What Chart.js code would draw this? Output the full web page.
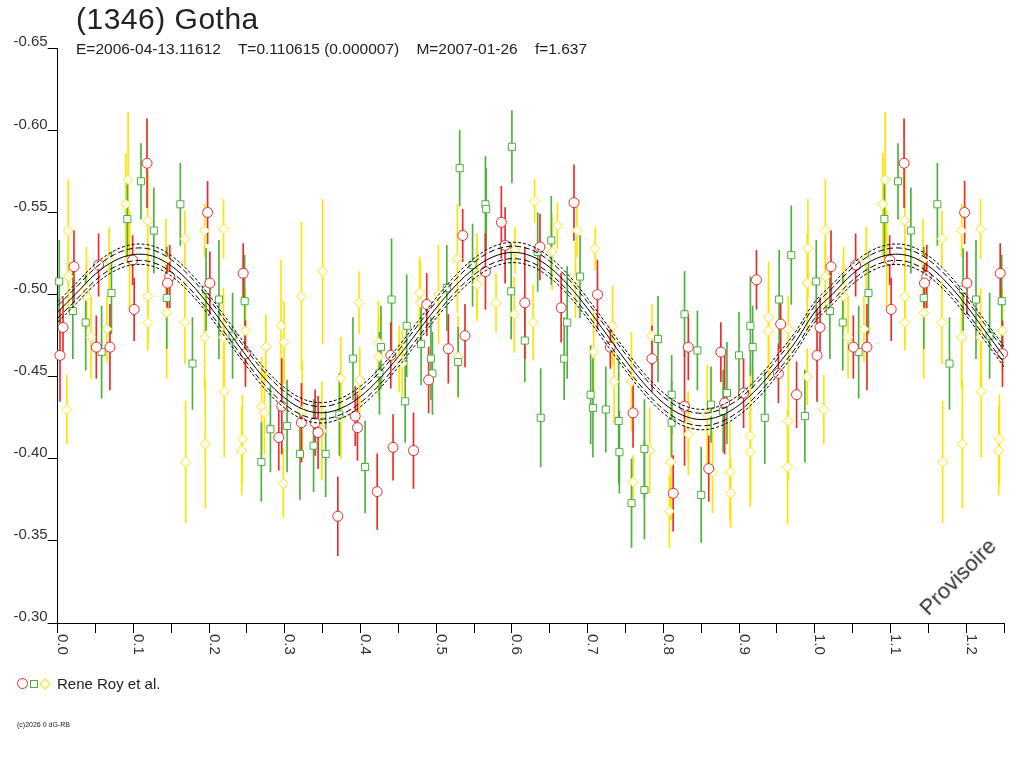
<!DOCTYPE html>
<html>
<head>
<meta charset="utf-8">
<title>(1346) Gotha</title>
<script src="https://cdn.jsdelivr.net/npm/chart.js@4.4.1/dist/chart.umd.min.js"></script>
<style>
body { margin: 0; background: #fff; }
#wrap { position: relative; width: 1024px; height: 768px; overflow: hidden; font-family: "Liberation Sans", Arial, sans-serif; color: #222; }
#c { position: absolute; left: 0; top: 0; }
.t { position: absolute; white-space: pre; line-height: 1; }
.mk { position: absolute; box-sizing: border-box; }
</style>
</head>
<body>
<div id="wrap">
  <canvas id="c" width="1024" height="768"></canvas>
  <div class="t" style="left:76px;top:4px;font-size:30px;letter-spacing:0.5px">(1346) Gotha</div>
  <div class="t" style="left:76px;top:41px;font-size:15.5px">E=2006-04-13.11612    T=0.110615 (0.000007)    M=2007-01-26    f=1.637</div>

  <span class="mk" style="left:17px;top:678px;width:11px;height:11px;border:1px solid #f02828;border-radius:50%"></span>
  <span class="mk" style="left:30px;top:680px;width:8px;height:8px;border:1px solid #4cb03c"></span>
  <span class="mk" style="left:41px;top:680px;width:8px;height:8px;border:1px solid #ffe400;transform:rotate(45deg)"></span>
  <div class="t" style="left:57px;top:676px;font-size:15px">Rene Roy et al.</div>
  <div class="t" style="left:17px;top:721px;font-size:7px">(c)2026 0 dG-RB</div>
  <div class="t" style="left:958px;top:577px;font-size:22px;color:#333;transform:translate(-50%,-50%) rotate(-45deg)">Provisoire</div>
</div>
<script>
// Rene Roy et al. - rouge (cercles)
const redPhase = [0.003, 0.007, 0.0215, 0.051, 0.054, 0.069, 0.099, 0.101, 0.118, 0.148, 0.145, 0.198, 0.201, 0.245, 0.248,
  0.296, 0.292, 0.322, 0.340, 0.344, 0.370, 0.393, 0.396, 0.422, 0.440, 0.443, 0.470, 0.4875, 0.490, 0.516,
  0.535, 0.538, 0.565, 0.586, 0.591, 0.617, 0.637, 0.665, 0.682, 0.713, 0.730, 0.760, 0.785, 0.813,
  0.828, 0.833, 0.860, 0.876, 0.881, 0.906, 0.923, 0.955, 0.952, 0.976];
const redMag = [-0.463, -0.480, -0.517, -0.468, -0.518, -0.468, -0.521, -0.491, -0.580, -0.511, -0.507, -0.550, -0.507, -0.513, -0.464,
  -0.432, -0.413, -0.422, -0.422, -0.416, -0.365, -0.426, -0.419, -0.380, -0.463, -0.407, -0.405, -0.494, -0.448, -0.467,
  -0.536, -0.475, -0.514, -0.544, -0.530, -0.495, -0.529, -0.492, -0.556, -0.500, -0.468, -0.428, -0.461, -0.379,
  -0.432, -0.468, -0.394, -0.465, -0.434, -0.440, -0.509, -0.482, -0.452, -0.439];
const redErr = [0.028, 0.018, 0.022, 0.019, 0.019, 0.026, 0.015, 0.019, 0.027, 0.019, 0.017, 0.019, 0.019, 0.018, 0.020,
  0.029, 0.020, 0.024, 0.020, 0.022, 0.024, 0.018, 0.020, 0.023, 0.020, 0.020, 0.023, 0.019, 0.020, 0.021,
  0.016, 0.019, 0.023, 0.022, 0.023, 0.034, 0.020, 0.021, 0.023, 0.021, 0.013, 0.021, 0.020, 0.023,
  0.036, 0.020, 0.020, 0.018, 0.031, 0.021, 0.018, 0.017, 0.018, 0.020];

// vert (carres)
const greenPhase = [0.002, 0.020, 0.037, 0.058, 0.071, 0.092, 0.110, 0.127, 0.144, 0.162, 0.178, 0.196, 0.213, 0.231, 0.247,
  0.269, 0.281, 0.303, 0.320, 0.338, 0.354, 0.372, 0.390, 0.406, 0.427, 0.425, 0.441, 0.459, 0.461, 0.480,
  0.493, 0.495, 0.514, 0.531, 0.529, 0.548, 0.565, 0.566, 0.599, 0.600, 0.617, 0.634, 0.638, 0.652,
  0.673, 0.669, 0.690, 0.704, 0.707, 0.724, 0.741, 0.742, 0.758, 0.775, 0.775, 0.793, 0.811, 0.811,
  0.828, 0.845, 0.850, 0.863, 0.879, 0.884, 0.900, 0.915, 0.918, 0.934, 0.953, 0.969, 0.987];
const greenMag = [-0.508, -0.490, -0.483, -0.465, -0.501, -0.546, -0.569, -0.539, -0.498, -0.555, -0.458, -0.503, -0.497, -0.475, -0.496,
  -0.398, -0.418, -0.420, -0.403, -0.408, -0.403, -0.427, -0.461, -0.395, -0.468, -0.452, -0.497, -0.435, -0.481, -0.470,
  -0.461, -0.452, -0.504, -0.577, -0.459, -0.518, -0.555, -0.552, -0.502, -0.590, -0.472, -0.526, -0.425, -0.533,
  -0.483, -0.461, -0.511, -0.439, -0.431, -0.430, -0.423, -0.404, -0.373, -0.406, -0.381, -0.473, -0.439, -0.422,
  -0.488, -0.466, -0.378, -0.433, -0.429, -0.440, -0.463, -0.481, -0.468, -0.425, -0.497, -0.524, -0.426];
const greenErr = [0.025, 0.029, 0.029, 0.028, 0.025, 0.025, 0.023, 0.026, 0.031, 0.025, 0.028, 0.025, 0.036, 0.026, 0.028,
  0.024, 0.026, 0.028, 0.028, 0.028, 0.026, 0.025, 0.025, 0.028, 0.025, 0.025, 0.037, 0.025, 0.031, 0.025,
  0.025, 0.025, 0.026, 0.023, 0.021, 0.025, 0.029, 0.025, 0.029, 0.022, 0.025, 0.024, 0.030, 0.027,
  0.034, 0.025, 0.025, 0.030, 0.030, 0.026, 0.038, 0.025, 0.027, 0.030, 0.030, 0.026, 0.024, 0.025,
  0.026, 0.024, 0.029, 0.023, 0.025, 0.031, 0.026, 0.030, 0.025, 0.028, 0.030, 0.030, 0.028];

// jaune (losanges)
const yellowPhase = [0.014, 0.014, 0.012, 0.038, 0.038, 0.044, 0.065, 0.068, 0.090, 0.093, 0.095, 0.119, 0.119, 0.119, 0.143,
  0.145, 0.144, 0.168, 0.168, 0.169, 0.194, 0.194, 0.195, 0.219, 0.219, 0.220, 0.244, 0.243, 0.248,
  0.2695, 0.273, 0.275, 0.295, 0.299, 0.298, 0.322, 0.323, 0.349, 0.350, 0.374, 0.374, 0.398, 0.399,
  0.4236, 0.424, 0.451, 0.455, 0.478, 0.479, 0.503, 0.528, 0.529, 0.554, 0.554, 0.579, 0.604, 0.603,
  0.628, 0.630, 0.653, 0.660, 0.686, 0.684, 0.710, 0.708, 0.733, 0.735, 0.758, 0.760, 0.785, 0.782,
  0.810, 0.808, 0.833, 0.833, 0.858, 0.865, 0.888, 0.889, 0.915, 0.915, 0.939, 0.939, 0.965, 0.965,
  0.964, 0.990, 0.990, 0.991];
const yellowMag = [-0.539, -0.511, -0.430, -0.504, -0.499, -0.474, -0.479, -0.521, -0.555, -0.570, -0.521, -0.545, -0.499, -0.483, -0.521,
  -0.507, -0.489, -0.534, -0.483, -0.398, -0.539, -0.474, -0.409, -0.540, -0.474, -0.441, -0.412, -0.405, -0.478,
  -0.432, -0.428, -0.468, -0.481, -0.471, -0.385, -0.499, -0.429, -0.417, -0.514, -0.449, -0.425, -0.495, -0.448,
  -0.471, -0.462, -0.461, -0.458, -0.501, -0.495, -0.500, -0.522, -0.462, -0.512, -0.506, -0.495, -0.527, -0.488,
  -0.483, -0.557, -0.526, -0.542, -0.539, -0.509, -0.528, -0.465, -0.481, -0.447, -0.447, -0.386, -0.475, -0.405,
  -0.398, -0.368, -0.421, -0.415, -0.427, -0.392, -0.392, -0.379, -0.414, -0.404, -0.486, -0.478, -0.479, -0.423,
  -0.395, -0.450, -0.507, -0.528];
const yellowErr = [0.031, 0.020, 0.021, 0.025, 0.020, 0.025, 0.020, 0.020, 0.031, 0.041, 0.030, 0.031, 0.030, 0.017, 0.025,
  0.020, 0.040, 0.017, 0.025, 0.037, 0.016, 0.031, 0.039, 0.018, 0.030, 0.040, 0.027, 0.027, 0.025,
  0.030, 0.025, 0.020, 0.040, 0.025, 0.021, 0.045, 0.030, 0.030, 0.044, 0.025, 0.025, 0.019, 0.020,
  0.025, 0.025, 0.020, 0.020, 0.022, 0.025, 0.030, 0.033, 0.025, 0.025, 0.022, 0.018, 0.014, 0.023,
  0.023, 0.013, 0.023, 0.014, 0.016, 0.023, 0.013, 0.025, 0.024, 0.025, 0.030, 0.016, 0.019, 0.026,
  0.035, 0.022, 0.020, 0.025, 0.030, 0.025, 0.030, 0.021, 0.043, 0.030, 0.034, 0.030, 0.020, 0.036,
  0.035, 0.017, 0.030, 0.030];

// courbe ajustee
const fitPhase = [0.000, 0.025, 0.050, 0.075, 0.100, 0.125, 0.150, 0.175, 0.200, 0.225, 0.250, 0.275, 0.300, 0.325,
  0.350, 0.375, 0.400, 0.425, 0.450, 0.475, 0.500, 0.525, 0.550, 0.575, 0.600, 0.625, 0.650, 0.675,
  0.700, 0.725, 0.750, 0.775, 0.800, 0.825, 0.850, 0.875, 0.900, 0.925, 0.950, 0.975, 1.000];
const fitMag = [-0.4894, -0.5010, -0.5126, -0.5206, -0.5244, -0.5235, -0.5175, -0.5071, -0.4934, -0.4779, -0.4622, -0.4480, -0.4370, -0.4300,
  -0.4280, -0.4309, -0.4380, -0.4488, -0.4622, -0.4771, -0.4919, -0.5052, -0.5159, -0.5230, -0.5257, -0.5236, -0.5166, -0.5055,
  -0.4915, -0.4758, -0.4600, -0.4456, -0.4340, -0.4266, -0.4239, -0.4261, -0.4327, -0.4432, -0.4566, -0.4715, -0.4894];
const bandInner = 0.0038;
const bandOuter = 0.0062;

const xTicks = [0.0, 0.1, 0.2, 0.3, 0.4, 0.5, 0.6, 0.7, 0.8, 0.9, 1.0, 1.1, 1.2];

const RED = '#f02828', GREEN = '#4cb03c', YELLOW = '#ffe400';

// points + repetition au-dela de la phase 1.0
function points(ph, mag) {
    const out = [];
    ph.forEach((p, i) => {
        out.push({x: p, y: mag[i]});
        if (p <= 0.25) out.push({x: p + 1, y: mag[i]});
    });
    return out;
}
function bars(ph, mag, err) {
    const out = [];
    ph.forEach((p, i) => {
        out.push({x: p, y: [mag[i] - err[i], mag[i] + err[i]]});
        if (p <= 0.25) out.push({x: p + 1, y: [mag[i] - err[i], mag[i] + err[i]]});
    });
    return out;
}
function fitLine(shift) {
    const out = [];
    fitPhase.forEach((p, i) => out.push({x: p, y: fitMag[i] + shift}));
    fitPhase.forEach((p, i) => {
        if (p > 0 && p <= 0.25) out.push({x: p + 1, y: fitMag[i] + shift});
    });
    return out;
}

function lineSet(shift, dash) {
    return {
        type: 'line', data: fitLine(shift), showLine: true, borderColor: '#000', borderWidth: 1,
        borderDash: dash, pointRadius: 0, tension: 0.35, fill: false, order: 0
    };
}
function markSet(ph, mag, color, style, r) {
    return {
        type: 'scatter', data: points(ph, mag), pointStyle: style, pointRadius: r,
        borderColor: color, backgroundColor: '#fff', pointBorderWidth: 1, borderWidth: 1, order: 2, clip: false
    };
}
function barSet(ph, mag, err, color) {
    return {
        type: 'bar', data: bars(ph, mag, err), backgroundColor: color, borderWidth: 0,
        barThickness: 1, grouped: false, order: 5
    };
}

// etiquettes de l'axe x tournees
const xLabels = {
    id: 'xLabels',
    afterDraw(chart) {
        const s = chart.scales.x;
        const c = chart.ctx;
        c.save();
        c.fillStyle = '#333';
        c.font = '15px "Liberation Sans", Arial, sans-serif';
        c.textAlign = 'left';
        c.textBaseline = 'alphabetic';
        xTicks.forEach(v => {
            c.save();
            c.translate(s.getPixelForValue(v) + 0.5, s.top + 11);
            c.rotate(Math.PI / 2);
            c.fillText(v.toFixed(1), 0, 0);
            c.restore();
        });
        c.restore();
    }
};

new Chart(document.getElementById('c'), {
    type: 'scatter',
    data: {
        datasets: [
            lineSet(0, []),
            lineSet(bandInner, [6, 3]),
            lineSet(-bandInner, [6, 3]),
            lineSet(bandOuter, [3, 2]),
            lineSet(-bandOuter, [3, 2]),
            markSet(redPhase, redMag, RED, 'circle', 5),
            markSet(greenPhase, greenMag, GREEN, 'rect', 5),
            markSet(yellowPhase, yellowMag, YELLOW, 'rectRot', 5),
            barSet(redPhase, redMag, redErr, RED),
            barSet(greenPhase, greenMag, greenErr, GREEN),
            barSet(yellowPhase, yellowMag, yellowErr, YELLOW)
        ]
    },
    options: {
        responsive: false,
        animation: false,
        devicePixelRatio: 1,
        layout: { padding: { left: 0, top: 48.3, right: 20, bottom: 0 } },
        plugins: { legend: { display: false }, tooltip: { enabled: false } },
        scales: {
            x: {
                type: 'linear', min: 0, max: 1.25, offset: false,
                ticks: { stepSize: 0.05, display: false },
                grid: { drawOnChartArea: false, drawTicks: true, tickLength: 10, color: '#000', offset: false },
                border: { display: true, color: '#000' },
                afterFit: s => { s.height = 145; }
            },
            y: {
                type: 'linear', min: -0.65, max: -0.30, reverse: true,
                ticks: {
                    stepSize: 0.05, padding: 0, labelOffset: -6, color: '#333',
                    font: { family: '"Liberation Sans", Arial, sans-serif', size: 15 },
                    callback: v => v.toFixed(2)
                },
                grid: { drawOnChartArea: false, drawTicks: true, tickLength: 10, color: '#000' },
                border: { display: true, color: '#000' },
                afterFit: s => { s.width = 57.7; }
            }
        }
    },
    plugins: [xLabels]
});
</script>
</body>
</html>
